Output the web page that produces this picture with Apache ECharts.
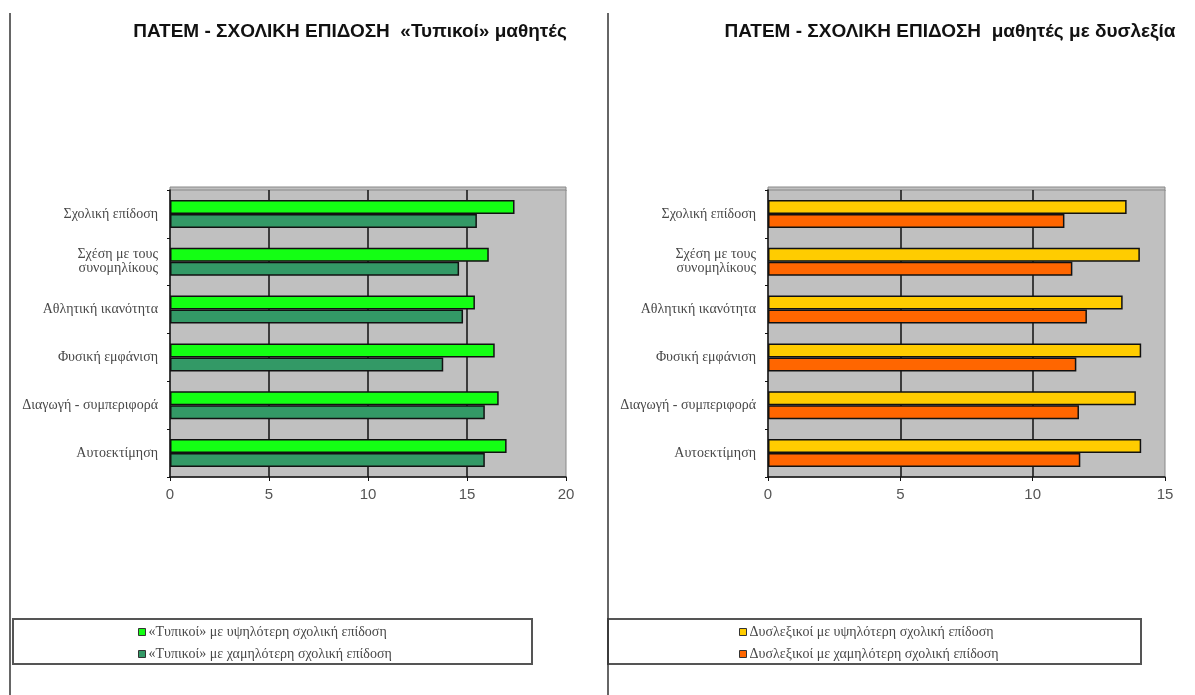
<!DOCTYPE html>
<html>
<head>
<meta charset="utf-8">
<script src="https://cdn.jsdelivr.net/npm/echarts@6/dist/echarts.min.js"></script>
<style>
  html, body { margin: 0; padding: 0; background: #fff; }
  #chart { width: 1195px; height: 695px; }
</style>
</head>
<body>
<div id="chart"></div>
<script>
// Categories, top to bottom
const categories = [
  'Σχολική επίδοση',
  'Σχέση με τους\nσυνομηλίκους',
  'Αθλητική ικανότητα',
  'Φυσική εμφάνιση',
  'Διαγωγή - συμπεριφορά',
  'Αυτοεκτίμηση'
];

// «Τυπικοί» μαθητές
const typicalHigh = [17.4, 16.1, 15.4, 16.4, 16.6, 17.0];
const typicalLow  = [15.5, 14.6, 14.8, 13.8, 15.9, 15.9];

// Μαθητές με δυσλεξία
const dyslexicHigh = [13.55, 14.05, 13.4, 14.1, 13.9, 14.1];
const dyslexicLow  = [11.2, 11.5, 12.05, 11.65, 11.75, 11.8];

const seriesNames = [
  '«Τυπικοί» με υψηλότερη σχολική επίδοση',
  '«Τυπικοί» με χαμηλότερη σχολική επίδοση',
  'Δυσλεξικοί με υψηλότερη σχολική επίδοση',
  'Δυσλεξικοί με χαμηλότερη σχολική επίδοση'
];

const titles = [
  'ΠΑΤΕΜ - ΣΧΟΛΙΚΗ ΕΠΙΔΟΣΗ  «Τυπικοί» μαθητές',
  'ΠΑΤΕΜ - ΣΧΟΛΙΚΗ ΕΠΙΔΟΣΗ  μαθητές με δυσλεξία'
];

const leftTicks = [0, 5, 10, 15, 20];
const rightTicks = [0, 5, 10, 15];

const serif = '"Liberation Serif", "DejaVu Serif", serif';
const sans = '"Liberation Sans", Arial, sans-serif';

function valueAxis(gridIndex, ticks) {
  return {
    type: 'value',
    gridIndex: gridIndex,
    min: ticks[0],
    max: ticks[ticks.length - 1],
    interval: ticks[1] - ticks[0],
    axisLine: { show: true, lineStyle: { color: '#111', width: 1.5 } },
    axisTick: { show: true, length: 4, lineStyle: { color: '#111' } },
    axisLabel: { color: '#555', fontFamily: sans, fontSize: 15, margin: 10 },
    splitLine: { show: true, showMinLine: false, showMaxLine: false,
                 lineStyle: { color: '#111', width: 1.5 } }
  };
}

function categoryAxis(gridIndex) {
  return {
    type: 'category',
    gridIndex: gridIndex,
    data: categories,
    inverse: true,
    axisLine: { show: true, lineStyle: { color: '#111', width: 1.5 } },
    axisTick: { show: true, length: 3, lineStyle: { color: '#111' } },
    axisLabel: { color: '#484848', fontFamily: serif, fontSize: 14, lineHeight: 14, margin: 12 },
    splitLine: { show: false }
  };
}

function barSeries(name, data, color, axisIdx) {
  return {
    name: name,
    type: 'bar',
    xAxisIndex: axisIdx,
    yAxisIndex: axisIdx,
    data: data,
    barWidth: 14,
    barGap: '0%',
    itemStyle: { color: color, borderColor: '#111', borderWidth: 1.5 },
    emphasis: { disabled: true }
  };
}

function legendBlock(names, left) {
  return {
    data: names, orient: 'vertical', left: left, top: 625,
    itemWidth: 7, itemHeight: 7, itemGap: 8, icon: 'rect', padding: 0,
    itemStyle: { borderColor: '#333', borderWidth: 1 },
    textStyle: { fontFamily: serif, fontSize: 14, color: '#484848', lineHeight: 12, padding: [0, 0, 0, -2] }
  };
}

const chart = echarts.init(document.getElementById('chart'), null, { renderer: 'canvas' });

chart.setOption({
  backgroundColor: '#fff',
  animation: false,
  title: [
    { text: titles[0], left: 345, top: 17, textAlign: 'center',
      textStyle: { fontFamily: sans, fontWeight: 'bold', fontSize: 19, color: '#111' } },
    { text: titles[1], left: 945, top: 17, textAlign: 'center',
      textStyle: { fontFamily: sans, fontWeight: 'bold', fontSize: 19, color: '#111' } }
  ],
  grid: [
    { left: 170, top: 190, width: 396, height: 287, show: true,
      backgroundColor: '#c0c0c0', borderColor: '#888', borderWidth: 1 },
    { left: 768, top: 190, width: 397, height: 287, show: true,
      backgroundColor: '#c0c0c0', borderColor: '#888', borderWidth: 1 }
  ],
  xAxis: [valueAxis(0, leftTicks), valueAxis(1, rightTicks)],
  yAxis: [categoryAxis(0), categoryAxis(1)],
  legend: [
    legendBlock([seriesNames[0], seriesNames[1]], 138),
    legendBlock([seriesNames[2], seriesNames[3]], 739)
  ],
  graphic: [
    // page separators
    { type: 'line', shape: { x1: 10, y1: 13, x2: 10, y2: 695 },
      style: { stroke: '#333', lineWidth: 1.5 } },
    { type: 'line', shape: { x1: 608, y1: 13, x2: 608, y2: 695 },
      style: { stroke: '#333', lineWidth: 1.5 } },
    // plot panel top edge
    { type: 'rect', shape: { x: 170, y: 187, width: 396, height: 4 },
      style: { fill: '#c0c0c0', stroke: '#888', lineWidth: 1 }, z: -1 },
    { type: 'rect', shape: { x: 768, y: 187, width: 397, height: 4 },
      style: { fill: '#c0c0c0', stroke: '#888', lineWidth: 1 }, z: -1 },
    // legend frames
    { type: 'rect', shape: { x: 13, y: 619, width: 519, height: 45 },
      style: { fill: 'none', stroke: '#555', lineWidth: 2 }, z: -1 },
    { type: 'rect', shape: { x: 608, y: 619, width: 533, height: 45 },
      style: { fill: 'none', stroke: '#555', lineWidth: 2 }, z: -1 }
  ],
  series: [
    barSeries(seriesNames[0], typicalHigh, '#14ff14', 0),
    barSeries(seriesNames[1], typicalLow, '#339966', 0),
    barSeries(seriesNames[2], dyslexicHigh, '#ffcc00', 1),
    barSeries(seriesNames[3], dyslexicLow, '#ff6600', 1)
  ]
});
</script>
</body>
</html>
